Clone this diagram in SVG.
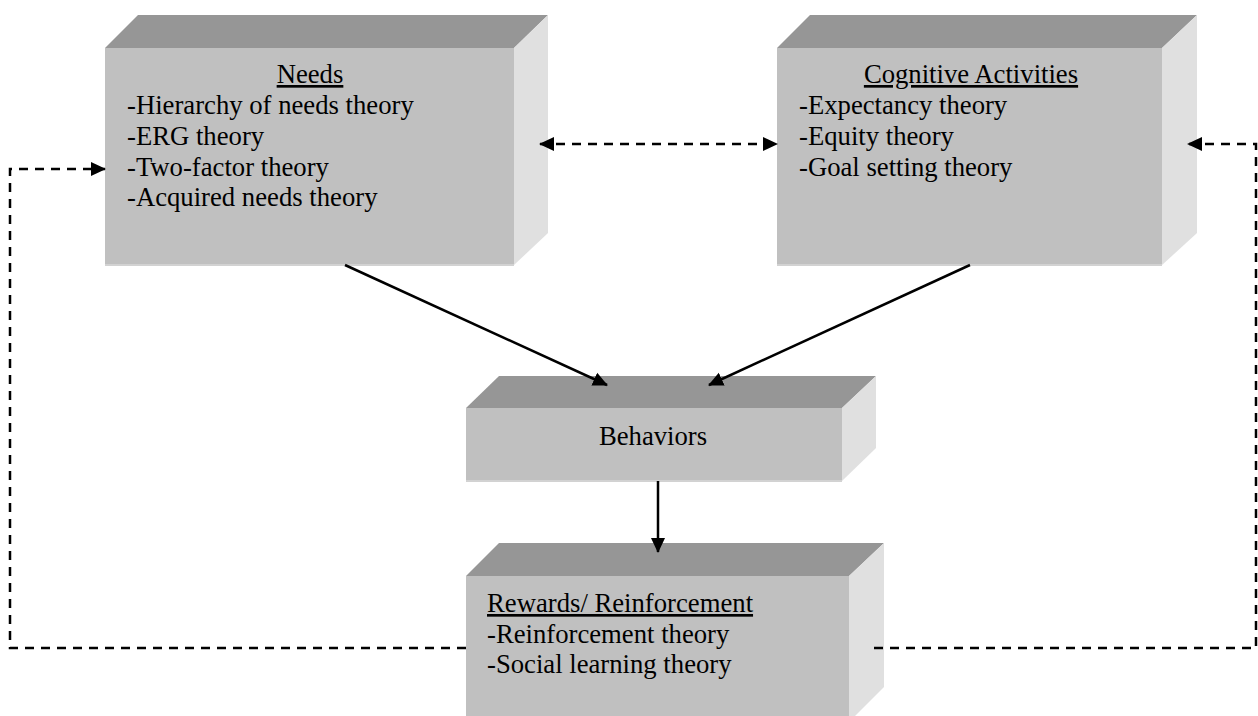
<svg xmlns="http://www.w3.org/2000/svg" width="1258" height="716" viewBox="0 0 1258 716">
<style>
.top{fill:#969696}
.front{fill:#c0c0c0}
.side{fill:#e0e0e0}
.edge{stroke:#d2d2d2;stroke-width:2;fill:none}
.t{font-family:"Liberation Serif","Times New Roman",serif;font-size:26.7px;fill:#000}
.u{text-decoration:underline}
.solid{stroke:#000;stroke-width:2.5;fill:none}
.dash{stroke:#000;stroke-width:2.5;fill:none;stroke-dasharray:9 7}
</style>
<defs>
<marker id="ah" markerUnits="userSpaceOnUse" markerWidth="16" markerHeight="16" viewBox="0 0 16 16" refX="14" refY="8" orient="auto-start-reverse">
<path d="M0,1 L15,8 L0,15 z" fill="#000"/>
</marker>
</defs>
<rect width="1258" height="716" fill="#fff"/>
<g id="needs">
<polygon class="top" points="105,48 138,15 548,15 514,48"/>
<polygon class="side" points="514,48 548,15 548,233 514,265"/>
<rect class="front" x="105" y="48" width="409" height="217"/>
<path class="edge" d="M105,265 H514"/>
<text class="t u" x="310" y="83" text-anchor="middle">Needs</text>
<text class="t" x="127" y="113.5">-Hierarchy of needs theory</text>
<text class="t" x="127" y="144.5">-ERG theory</text>
<text class="t" x="127" y="175.5">-Two-factor theory</text>
<text class="t" x="127" y="206">-Acquired needs theory</text>
</g>
<g id="cognitive">
<polygon class="top" points="777,48 810,15 1197,15 1162,48"/>
<polygon class="side" points="1162,48 1197,15 1197,233 1162,265"/>
<rect class="front" x="777" y="48" width="385" height="217"/>
<path class="edge" d="M777,265 H1162"/>
<text class="t u" x="971" y="83" text-anchor="middle">Cognitive Activities</text>
<text class="t" x="799" y="113.5">-Expectancy theory</text>
<text class="t" x="799" y="144.5">-Equity theory</text>
<text class="t" x="799" y="175.5">-Goal setting theory</text>
</g>
<g id="behaviors">
<polygon class="top" points="466,408 499,376 876,376 842,408"/>
<polygon class="side" points="842,408 876,376 876,448 842,481"/>
<rect class="front" x="466" y="408" width="376" height="73"/>
<path class="edge" d="M466,481 H842"/>
<text class="t" x="653" y="445" text-anchor="middle">Behaviors</text>
</g>
<g id="rewards">
<polygon class="top" points="466,576 499,543 884,543 849,576"/>
<polygon class="side" points="849,576 884,543 884,687 849,722"/>
<rect class="front" x="466" y="576" width="383" height="146"/>
<text class="t u" x="487" y="612">Rewards/ Reinforcement</text>
<text class="t" x="487" y="643">-Reinforcement theory</text>
<text class="t" x="487" y="673">-Social learning theory</text>
</g>
<g id="connectors">
<line class="solid" x1="345" y1="265" x2="607" y2="385" marker-end="url(#ah)"/>
<line class="solid" x1="970" y1="265" x2="709" y2="385" marker-end="url(#ah)"/>
<line class="solid" x1="658" y1="481" x2="658" y2="552" marker-end="url(#ah)"/>
<line class="dash" x1="540" y1="144" x2="777" y2="144" marker-start="url(#ah)" marker-end="url(#ah)"/>
<polyline class="dash" points="466,648 10,648 10,169 105,169" marker-end="url(#ah)"/>
<polyline class="dash" points="874,648 1256,648 1256,144 1188,144" marker-end="url(#ah)"/>
</g>
</svg>
